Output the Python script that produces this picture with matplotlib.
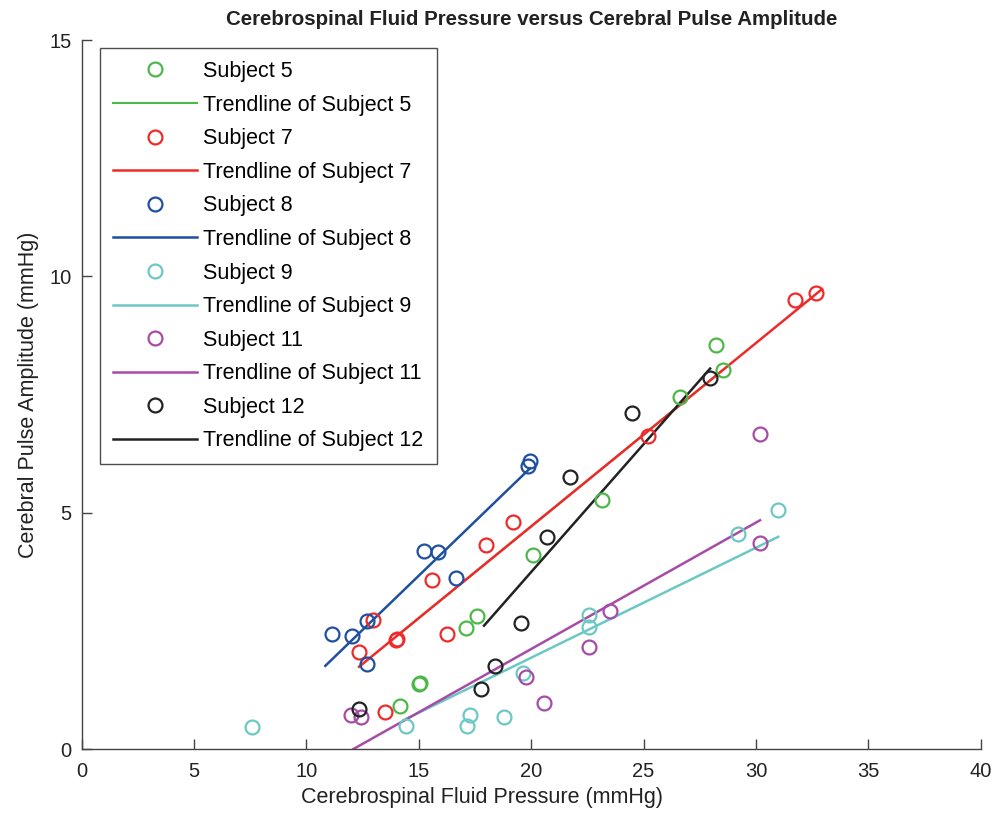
import numpy as np
import matplotlib
matplotlib.use("Agg")
import matplotlib.pyplot as plt

plt.rcParams['font.family'] = ['Liberation Sans', 'DejaVu Sans']

# --- data ---
s5_x = [28.22, 28.54, 26.62, 23.15, 20.08, 17.59, 17.10, 15.00, 15.05, 14.17]
s5_y = [8.55, 8.02, 7.45, 5.27, 4.10, 2.81, 2.56, 1.37, 1.39, 0.91]
# green trendline sits underneath the red one in the reference
s5_trend_x = [14.2, 28.5]
s5_trend_y = [2.46, 8.01]

s7_x = [32.67, 31.74, 25.20, 19.20, 17.99, 15.59, 16.24, 14.00, 14.05, 12.95, 12.35, 13.50]
s7_y = [9.65, 9.51, 6.62, 4.80, 4.32, 3.58, 2.44, 2.31, 2.33, 2.74, 2.05, 0.78]
s7_trend_x = [12.34, 32.94]
s7_trend_y = [1.74, 9.73]

s8_x = [19.95, 19.84, 15.24, 15.84, 16.65, 12.68, 12.01, 11.14, 12.68]
s8_y = [6.09, 5.99, 4.20, 4.16, 3.62, 2.71, 2.40, 2.44, 1.80]
s8_trend_x = [10.84, 19.95]
s8_trend_y = [1.76, 5.94]

s9_x = [7.59, 14.43, 17.28, 17.13, 18.79, 19.62, 22.59, 22.59, 29.19, 30.97]
s9_y = [0.46, 0.49, 0.71, 0.49, 0.68, 1.61, 2.83, 2.59, 4.55, 5.06]
s9_trend_x = [14.32, 30.99]
s9_trend_y = [0.61, 4.49]

s11_x = [11.97, 12.43, 19.76, 20.59, 22.59, 23.51, 30.16, 30.16]
s11_y = [0.72, 0.67, 1.53, 0.97, 2.15, 2.92, 6.66, 4.35]
s11_trend_x = [12.09, 30.18]
s11_trend_y = [0.0, 4.84]

s12_x = [21.73, 20.69, 19.53, 18.39, 17.77, 12.35, 24.47, 27.96]
s12_y = [5.75, 4.48, 2.67, 1.76, 1.26, 0.85, 7.10, 7.84]
s12_trend_x = [17.90, 27.96]
s12_trend_y = [2.61, 8.05]

subjects = ['5', '7', '8', '9', '11', '12']
colors = ['#4db848', '#ee2a2a', '#1f4fa0', '#6cc8c4', '#a64ca6', '#222222']

series = [
    (s5_x, s5_y, s5_trend_x, s5_trend_y),
    (s7_x, s7_y, s7_trend_x, s7_trend_y),
    (s8_x, s8_y, s8_trend_x, s8_trend_y),
    (s9_x, s9_y, s9_trend_x, s9_trend_y),
    (s11_x, s11_y, s11_trend_x, s11_trend_y),
    (s12_x, s12_y, s12_trend_x, s12_trend_y),
]

fig = plt.figure(figsize=(10.06, 8.17), dpi=100)
ax = fig.add_axes([0.0812, 0.0832, 0.8937, 0.8678])

for i, (name, col, (px, py, tx, ty)) in enumerate(zip(subjects, colors, series)):
    ax.plot(px, py, linestyle='none', marker='o', markersize=10,
            markerfacecolor='none', markeredgecolor=col, markeredgewidth=1.6,
            label='Subject ' + name, clip_on=False, zorder=3)
    lw = 1.5 if i == 0 else 1.8
    ax.plot(tx, ty, color=col, linewidth=lw,
            label='Trendline of Subject ' + name, zorder=2)

ax.set_xlim(0, 40)
ax.set_ylim(0, 15)
ax.set_xticks(np.arange(0, 41, 5))
ax.set_yticks([0, 5, 10, 15])
ax.spines['top'].set_visible(False)
ax.spines['right'].set_visible(False)
for sp in ('left', 'bottom'):
    ax.spines[sp].set_color('#444444')
    ax.spines[sp].set_linewidth(1.0)
ax.tick_params(direction='in', length=7, width=1.0, colors='#444444',
               labelcolor='#222222', labelsize=14.5, pad=7.5)
ax.tick_params(axis='x', pad=9)

ax.set_xlabel('Cerebrospinal Fluid Pressure (mmHg)', fontsize=15.5, color='#222222', labelpad=10)
ax.xaxis.set_label_coords(0.445, -0.053)
ax.set_ylabel('Cerebral Pulse Amplitude (mmHg)', fontsize=15.5, color='#222222', labelpad=7)
ax.set_title('Cerebrospinal Fluid Pressure versus Cerebral Pulse Amplitude',
             fontsize=14.8, fontweight='bold', color='#222222', pad=10.5)

leg = ax.legend(loc='upper left', bbox_to_anchor=(0.0204, 0.9887), borderaxespad=0,
                fontsize=15.5, handlelength=3.9, handletextpad=0.3, labelspacing=0.585,
                fancybox=False, frameon=True, borderpad=0.6)
leg.get_frame().set_edgecolor('#222222')
leg.get_frame().set_linewidth(1.0)

fig.savefig('out.png', dpi=100)
